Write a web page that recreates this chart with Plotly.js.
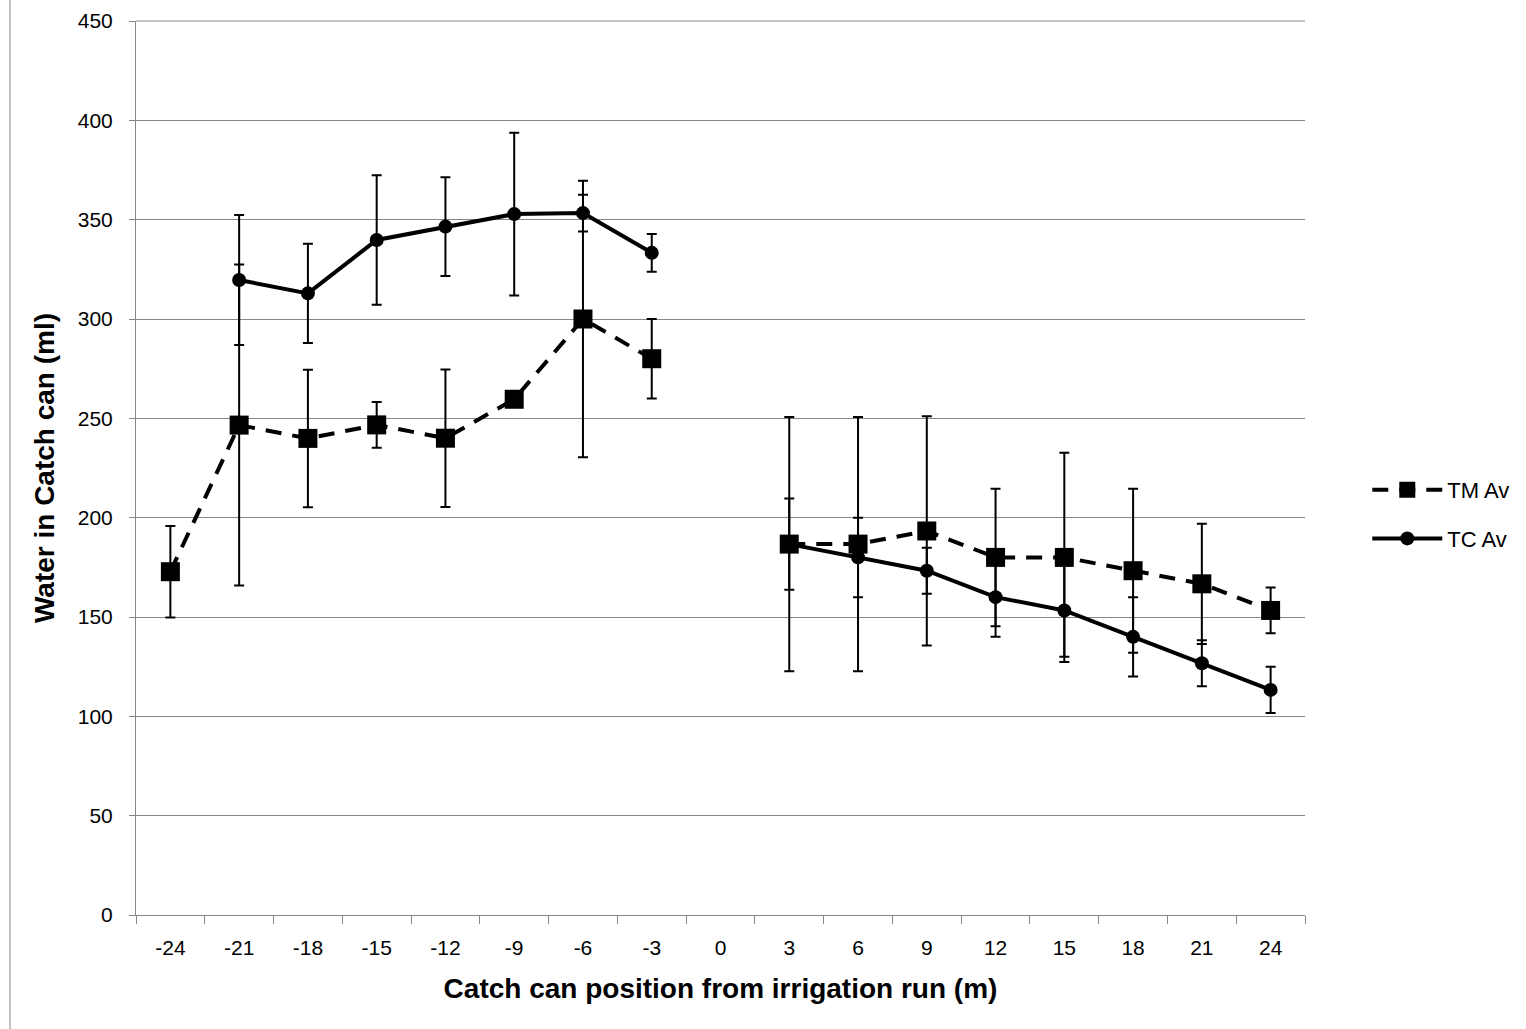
<!DOCTYPE html>
<html>
<head>
<meta charset="utf-8">
<script src="https://cdn.plot.ly/plotly-3.0.1.min.js"></script>
<style>html,body{margin:0;padding:0;background:#fff;}#chart{width:1526px;height:1029px;}</style>
</head>
<body>
<div id="chart"></div>
<script>
const positions = ['-24','-21','-18','-15','-12','-9','-6','-3','0','3','6','9','12','15','18','21','24'];
const tmAv  = [172.8, 246.6, 239.9, 246.7, 240.0, 259.6, 300.0, 280.0, null, 186.7, 186.7, 193.3, 180.0, 180.0, 173.3, 166.7, 153.3];
const tmErr = [23.0, 80.8, 34.6, 11.5, 34.6, 0, 69.6, 20.0, null, 64.0, 64.0, 57.7, 34.6, 52.7, 41.3, 30.3, 11.5];
const tcAv  = [null, 319.6, 312.9, 339.8, 346.5, 352.8, 353.3, 333.3, null, 186.7, 180.0, 173.3, 160.0, 153.3, 140.0, 126.7, 113.3];
const tcErr = [null, 32.7, 25.0, 32.6, 24.8, 41.0, 9.3, 9.5, null, 23.0, 20.0, 11.6, 20.0, 23.3, 20.0, 11.6, 11.6];
const seriesNames = ['TM Av', 'TC Av'];
const xTitle = 'Catch can position from irrigation run (m)';
const yTitle = 'Water in Catch can (ml)';

const FONT = 'Liberation Sans, Arial, sans-serif';

const traces = [
  {
    x: positions, y: tmAv, name: seriesNames[0], legendgroup: 'a', type: 'scatter', mode: 'lines+markers',
    connectgaps: false,
    line: {color: '#000', width: 4, dash: '16px,11px'},
    marker: {symbol: 'square', size: 19, color: '#000'},
    error_y: {type: 'data', array: tmErr, visible: true, color: '#000', thickness: 2, width: 5}
  },
  {
    x: positions, y: tcAv, name: seriesNames[1], legendgroup: 'b', type: 'scatter', mode: 'lines+markers',
    connectgaps: false,
    line: {color: '#000', width: 4},
    marker: {symbol: 'circle', size: 14, color: '#000'},
    error_y: {type: 'data', array: tcErr, visible: true, color: '#000', thickness: 2, width: 5}
  }
];

const layout = {
  width: 1526, height: 1029,
  margin: {l: 136, r: 221, t: 21, b: 114},
  paper_bgcolor: '#fff', plot_bgcolor: '#fff',
  font: {family: FONT, size: 21, color: '#000'},
  showlegend: true,
  legend: {xref: 'container', yref: 'container', x: 0.896, y: 0.5, xanchor: 'left', yanchor: 'middle', traceorder: 'grouped',
           font: {family: FONT, size: 22, color: '#000'}, tracegroupgap: 17, itemwidth: 70},
  xaxis: {
    type: 'category', categoryorder: 'array', categoryarray: positions,
    range: [-0.5, 16.5],
    showgrid: false, zeroline: false,
    showline: true, linecolor: '#868686', linewidth: 1,
    ticks: 'outside', tickson: 'boundaries', ticklen: 8, tickcolor: '#868686',
    ticklabelstandoff: 14,
    tickfont: {family: FONT, size: 21, color: '#000'},
    title: {text: xTitle, font: {family: FONT, size: 28, color: '#000', weight: 'bold'}, standoff: 20}
  },
  yaxis: {
    range: [0, 450], dtick: 50, tick0: 0,
    showgrid: true, gridcolor: '#868686', gridwidth: 1,
    zeroline: false,
    showline: true, linecolor: '#868686', linewidth: 1,
    ticks: 'outside', ticklen: 6, tickcolor: '#868686',
    ticklabelstandoff: 12,
    tickfont: {family: FONT, size: 21, color: '#000'},
    title: {text: yTitle, font: {family: FONT, size: 28, color: '#000', weight: 'bold'}, standoff: 14}
  },
  shapes: [
    {type: 'line', xref: 'paper', yref: 'paper', x0: 0, x1: 1, y0: 1, y1: 1,
     line: {color: '#868686', width: 1}},
    {type: 'line', xref: 'paper', yref: 'paper', x0: -0.1078, x1: -0.1078, y0: -0.13, y1: 1.03,
     line: {color: '#868686', width: 1}}
  ]
};

Plotly.newPlot('chart', traces, layout, {displayModeBar: false, staticPlot: true});
</script>
</body>
</html>
